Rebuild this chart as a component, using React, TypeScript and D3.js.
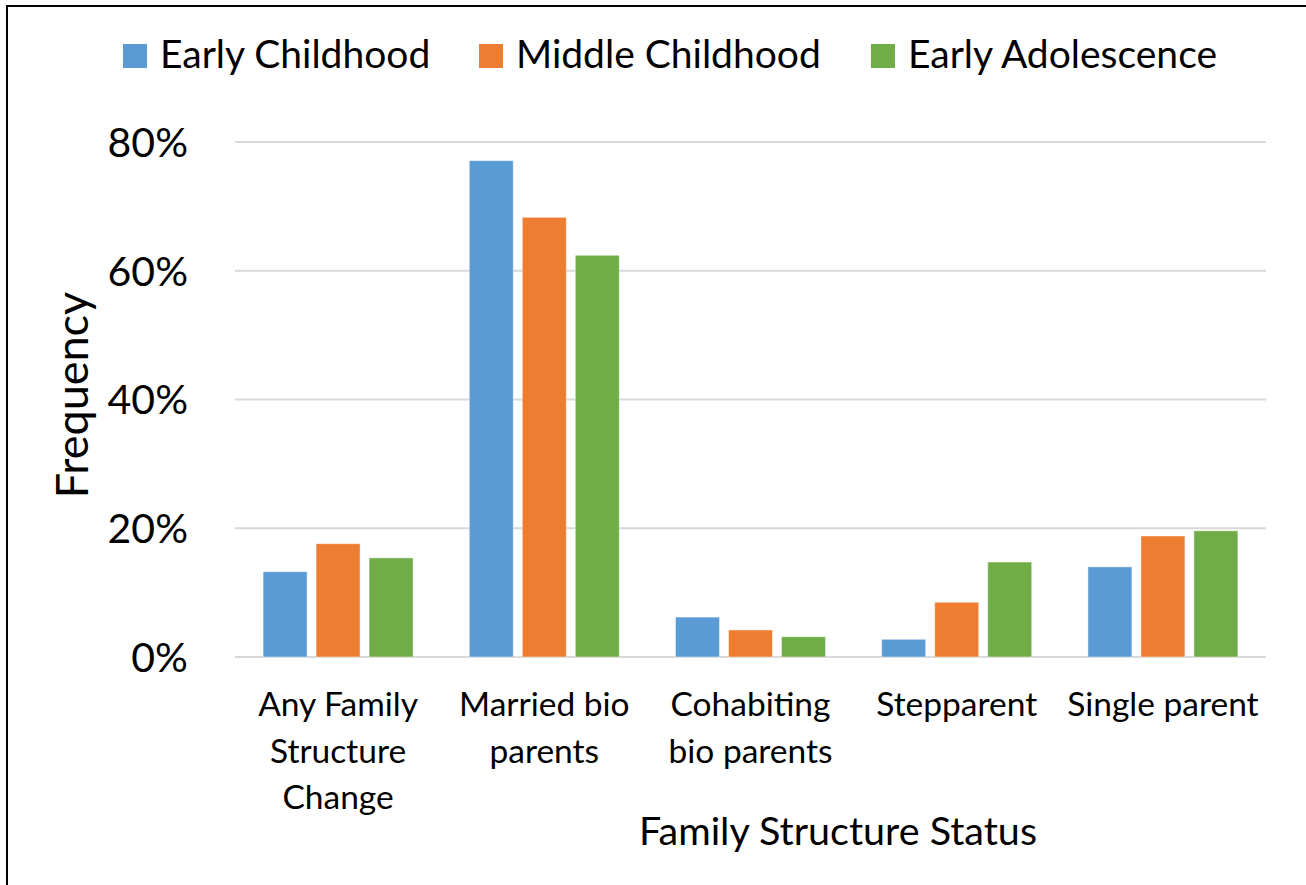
import React from "react";
import * as d3 from "d3";

const categories: string[][] = [
  ["Any Family", "Structure", "Change"],
  ["Married bio", "parents"],
  ["Cohabiting", "bio parents"],
  ["Stepparent"],
  ["Single parent"],
];
const seriesNames = ["Early Childhood", "Middle Childhood", "Early Adolescence"];
const earlyChildhood = [0.1325, 0.771, 0.062, 0.0275, 0.14];
const middleChildhood = [0.176, 0.683, 0.042, 0.085, 0.188];
const earlyAdolescence = [0.154, 0.624, 0.0315, 0.1475, 0.196];
const yTicks = [0, 0.2, 0.4, 0.6, 0.8];
const colors = ["#5B9BD5", "#ED7D31", "#70AD47"];

const FONT = "Lato, 'Open Sans', sans-serif";

export default function App() {
  const W = 1306;
  const H = 885;
  const left = 235;
  const right = 1266;
  const y0 = 657;
  const yTop = 142;
  const series = [earlyChildhood, middleChildhood, earlyAdolescence];
  const catKeys = categories.map((c) => c.join(" "));

  const x = d3.scaleBand<string>().domain(catKeys).range([left, right]).paddingInner(0).paddingOuter(0);
  const y = d3.scaleLinear().domain([0, 0.8]).range([y0, yTop]);
  const groupW = 150;
  const inner = d3
    .scaleBand<number>()
    .domain([0, 1, 2])
    .range([0, groupW])
    .paddingInner(0.17)
    .paddingOuter(0);
  const fmt = d3.format(".0%");

  const legendX = [123, 479, 871];

  return (
    <svg
      width={W}
      height={H}
      style={{ position: "absolute", left: 0, top: 0, background: "#fff" }}
      fontFamily={FONT}
    >
      <rect x={0} y={0} width={W} height={H} fill="#fff" />
      <rect x={7} y={6} width={W + 20} height={H + 20} fill="none" stroke="#000" strokeWidth={2} />

      {yTicks.map((t) => (
        <g key={t}>
          <line x1={left} x2={right} y1={y(t)} y2={y(t)} stroke="#d9d9d9" strokeWidth={2} />
          <text x={188} y={y(t)} dy="0.36em" textAnchor="end" fontSize={41} fill="#000">
            {fmt(t)}
          </text>
        </g>
      ))}

      {catKeys.map((k, ci) => {
        const gx = (x(k) as number) + (x.bandwidth() - groupW) / 2;
        return (
          <g key={k}>
            {series.map((s, si) => (
              <rect
                key={si}
                x={gx + (inner(si) as number)}
                y={y(s[ci])}
                width={inner.bandwidth()}
                height={y0 - y(s[ci])}
                fill={colors[si]}
                stroke="#ffffff"
                strokeOpacity={0.45}
                strokeWidth={1}
              />
            ))}
          </g>
        );
      })}

      {categories.map((lines, ci) => {
        const cx = (x(catKeys[ci]) as number) + x.bandwidth() / 2;
        return (
          <text key={ci} x={cx} y={716} textAnchor="middle" fontSize={33.5} fill="#000">
            {lines.map((l, li) => (
              <tspan key={li} x={cx} y={716 + li * 46.7}>
                {l}
              </tspan>
            ))}
          </text>
        );
      })}

      <text x={838} y={845} textAnchor="middle" fontSize={39.5} fill="#000">
        Family Structure Status
      </text>
      <text
        transform={`translate(88,395) rotate(-90)`}
        textAnchor="middle"
        fontSize={45}
        fill="#000"
      >
        Frequency
      </text>

      {seriesNames.map((n, i) => (
        <g key={n}>
          <rect x={legendX[i]} y={44} width={24} height={24} fill={colors[i]} />
          <text x={legendX[i] + 37} y={68} fontSize={39} fill="#000">
            {n}
          </text>
        </g>
      ))}
    </svg>
  );
}
